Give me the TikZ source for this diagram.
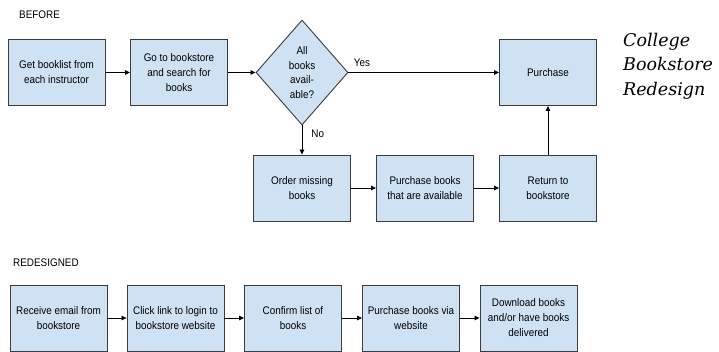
\documentclass[tikz,border=0pt]{standalone}
\usepackage{fontspec}
\setmainfont{Liberation Sans}[FakeStretch=0.9]
\newfontfamily\titlefont{DejaVu Serif Italic}
\usepackage{xcolor}
\usetikzlibrary{shapes,arrows.meta,positioning}
\definecolor{boxblue}{HTML}{CFE2F3}
\definecolor{boxline}{HTML}{3C3C3C}

\begin{document}
\begin{tikzpicture}[x=1pt,y=-1pt,
    box/.style={draw=boxline, fill=boxblue, line width=0.9pt, minimum width=97pt,
        minimum height=66pt, inner sep=0pt, align=center, font=\fontsize{11}{15}\selectfont},
    decide/.style={diamond, draw=boxline, fill=boxblue, line width=0.9pt, minimum width=92pt,
        minimum height=105pt, inner sep=0pt, align=center, font=\fontsize{11}{14.5}\selectfont},
    tag/.style={font=\fontsize{11}{13}\selectfont, inner sep=0pt, anchor=west},
    arr/.style={-{Triangle[length=5pt,width=4.5pt]}, line width=0.8pt}]
    \useasboundingbox (0,0) rectangle (719,352);

    % Before
    \node[tag] (before) at (19,15) {BEFORE};
    \node[box] (booklist) at (56.5,72.5) {Get booklist from\\each instructor};
    \node[box] (search) at (179,72.5) {Go to bookstore\\and search for\\books};
    \node[decide] (allbooks) at (302,72.5) {All\\books\\avail-\\able?};
    \node[box] (purchase) at (548,72.5) {Purchase};
    \node[box] (order) at (302,188) {Order missing\\books};
    \node[box] (buyavail) at (425,188) {Purchase books\\that are available};
    \node[box] (goback) at (548,188) {Return to\\bookstore};

    \draw[arr] (booklist) -- (search);
    \draw[arr] (search) -- (allbooks);
    \draw[arr] (allbooks) -- (purchase) node[tag, pos=0, anchor=south west, xshift=5pt, yshift=5pt] {Yes};
    \draw[arr] (allbooks) -- (order) node[tag, pos=0.3, right=9pt] {No};
    \draw[arr] (order) -- (buyavail);
    \draw[arr] (buyavail) -- (goback);
    \draw[arr] (goback) -- (purchase);

    % Redesigned
    \node[tag] (redesigned) at (13,263) {REDESIGNED};
    \node[box] (email) at (58.5,318) {Receive email from\\bookstore};
    \node[box] (login) at (175.5,318) {Click link to login to\\bookstore website};
    \node[box] (confirm) at (293,318) {Confirm list of\\books};
    \node[box] (website) at (411,318) {Purchase books via\\website};
    \node[box] (deliver) at (528.5,318) {Download books\\and/or have books\\delivered};

    \draw[arr] (email) -- (login);
    \draw[arr] (login) -- (confirm);
    \draw[arr] (confirm) -- (website);
    \draw[arr] (website) -- (deliver);

    % title
    \node[inner sep=0pt, anchor=west, align=left, font=\titlefont\fontsize{17.5}{24.5}\selectfont]
        (title) at (623,66) {College\\Bookstore\\Redesign};
\end{tikzpicture}
\end{document}
